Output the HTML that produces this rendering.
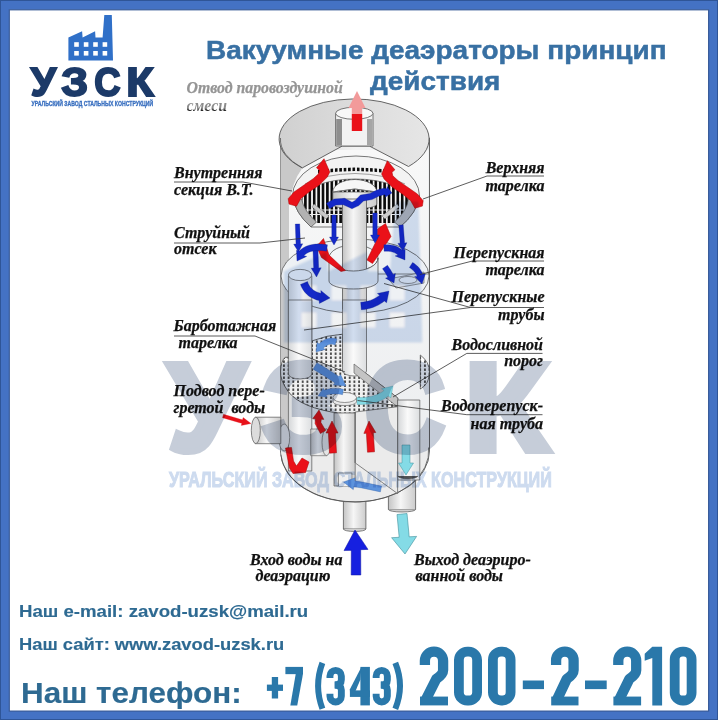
<!DOCTYPE html>
<html><head><meta charset="utf-8">
<style>
html,body{margin:0;padding:0;}
body{width:718px;height:720px;position:relative;overflow:hidden;background:#fff;font-family:"Liberation Sans",sans-serif;}
#frame{position:absolute;left:0;top:0;width:718px;height:720px;box-sizing:border-box;border-style:solid;border-color:#4472c4;border-width:9px 9px 8px 9px;z-index:50;}
.t{position:absolute;white-space:nowrap;line-height:1;}
.title{font-weight:bold;color:#3870a3;font-size:26.5px;transform-origin:0 0;-webkit-text-stroke:0.5px #3870a3;}
.lb{font-family:"Liberation Serif",serif;font-weight:bold;font-style:italic;color:#111;font-size:16px;-webkit-text-stroke-width:0.25px;}
.lbn{font-family:"Liberation Serif",serif;font-weight:bold;font-style:italic;color:#111;font-size:16px;-webkit-text-stroke-width:0.25px;}
.ct{font-weight:bold;color:#2e6a92;transform-origin:0 0;-webkit-text-stroke:0.15px #2e6a92;}
.ph{font-weight:bold;color:#2a79ad;transform-origin:0 0;}
svg{position:absolute;left:0;top:0;}
#wm{mix-blend-mode:multiply;}
</style></head><body>
<svg width="718" height="720" viewBox="0 0 718 720">
<g id="logo"><g id="logoF">
<path d="M68.4,60.5 L68.4,37.6 L82.1,31.3 L82.6,37.6 L95.1,31.3 L95.5,37.6 L102.6,37.6 L104.3,15 L111.8,15 L113,60.5 Z" fill="#3070c8"/>
<g fill="#fff">
<rect x="74.2" y="42.2" width="4.6" height="4.6"/><rect x="83.8" y="42.2" width="4.6" height="4.6"/><rect x="93.2" y="42.2" width="4.6" height="4.6"/><rect x="102.6" y="42.2" width="4.6" height="4.6"/>
<rect x="74.2" y="51" width="4.6" height="4.6"/><rect x="83.8" y="51" width="4.6" height="4.6"/><rect x="93.2" y="51" width="4.6" height="4.6"/><rect x="102.6" y="51" width="4.6" height="4.6"/>
</g></g><g id="logoT">
<g font-family="Liberation Sans" font-weight="bold" font-size="40.5" fill="#1c3a68" stroke="#1c3a68" stroke-width="2">
<text transform="translate(30.7,95.6) scale(1.004,1)">У</text>
<text transform="translate(61.2,95.6) scale(1.056,1)">З</text>
<text transform="translate(94.24,95.6) scale(0.901,1)">С</text>
<text transform="translate(126.37,95.6) scale(1.112,1)">К</text>
</g></g><g id="logoS">
<text transform="translate(31.6,106.4) scale(0.713,1)" font-family="Liberation Sans" font-weight="bold" font-size="7.2" fill="#3a70c0" stroke="#3a70c0" stroke-width="0.35">УРАЛЬСКИЙ ЗАВОД СТАЛЬНЫХ КОНСТРУКЦИЙ</text>
</g></g><defs>
 <linearGradient id="gw" x1="0" x2="1" y1="0" y2="0">
  <stop offset="0" stop-color="#c0c0c0"/><stop offset="0.06" stop-color="#cdcdcd"/><stop offset="0.5" stop-color="#f2f2f2"/><stop offset="0.94" stop-color="#f0f2f4"/><stop offset="1" stop-color="#e6e8ea"/>
 </linearGradient>
 <linearGradient id="gl" x1="0" x2="1" y1="0" y2="0">
  <stop offset="0" stop-color="#d0d0d0"/><stop offset="0.5" stop-color="#dcdcdc"/><stop offset="1" stop-color="#e6e6e6"/>
 </linearGradient>
 <linearGradient id="gp" x1="0" x2="1" y1="0" y2="0">
  <stop offset="0" stop-color="#c4c4c4"/><stop offset="0.45" stop-color="#f6f6f6"/><stop offset="1" stop-color="#cccccc"/>
 </linearGradient>
 <linearGradient id="gp2" x1="0" x2="1" y1="0" y2="0">
  <stop offset="0" stop-color="#d4d6d8"/><stop offset="0.45" stop-color="#fafafa"/><stop offset="1" stop-color="#dcdee0"/>
 </linearGradient>
 <linearGradient id="gin" x1="0" x2="0" y1="0" y2="1">
  <stop offset="0" stop-color="#f8f8f8"/><stop offset="1" stop-color="#eceef0"/>
 </linearGradient>
 <pattern id="dots" width="4.7" height="4" patternUnits="userSpaceOnUse">
  <rect x="1.2" y="0.5" width="1.4" height="2.4" fill="#111"/>
 </pattern>
 <pattern id="grate" width="4.4" height="20" patternUnits="userSpaceOnUse" x="0.5">
  <rect x="0" y="0" width="4.4" height="20" fill="#f4f4f4"/>
  <rect x="0" y="0" width="2.6" height="20" fill="#0a0a0a"/>
 </pattern>
</defs>

<g stroke-linejoin="round">
<!-- bottom pipes (behind body) -->
<rect x="343.4" y="490" width="22.5" height="39" fill="url(#gp)" stroke="#555" stroke-width="0.8"/>
<path d="M343.4,529 A11.25,2.5 0 0 0 365.9,529" fill="#cfcfcf" stroke="#555" stroke-width="0.7"/>
<rect x="388.4" y="480" width="27.2" height="29.5" fill="url(#gp)" stroke="#555" stroke-width="0.8"/>
<path d="M388.4,509.5 A13.6,2.5 0 0 0 415.6,509.5" fill="#cfcfcf" stroke="#555" stroke-width="0.7"/>
<!-- outer body -->
<path d="M280.5,138 V451 A74.5,51 0 0 0 429.5,451 V138 Z" fill="url(#gw)" stroke="#555" stroke-width="0.9"/>
<line x1="288.6" y1="160" x2="288.6" y2="452" stroke="#888" stroke-width="0.6"/>

<rect x="289" y="150" width="139.5" height="298" fill="url(#gin)"/>
<path d="M280.5,138 A75,40 0 0 0 302.3,167.9 Q292,182 289,205 V451 H280.5 Z" fill="#c9c9c9"/>
<path d="M281,452 A74,51 0 0 0 429,448 L429,440 L281,444 Z" fill="#ececec"/>
<path d="M280.8,454.6 A74,51 0 0 0 428.6,447.5" fill="none" stroke="#555" stroke-width="0.8"/>
<!-- upper tray ring -->
<path d="M292.5,196 A63.5,40 0 0 1 419.5,196 Q417,213 400,227 L311,227 Q295,213 292.5,196 Z" fill="#f3f3f3" stroke="#555" stroke-width="0.8"/>
<path d="M318,170 Q355,165 392,170 L392,173.5 Q355,168.5 318,173.5 Z" fill="url(#grate)"/>
<path d="M305,184 Q325,174 355,173.5 Q385,174 405,184" fill="none" stroke="#666" stroke-width="0.6"/>
<path d="M302,200 A53,21 0 0 1 408,200 L408,204 L399,223 L312,223 L302,204 Z" fill="url(#grate)"/>
<path d="M302,200 A53,21 0 0 1 408,200" fill="none" stroke="#555" stroke-width="0.7"/>
<path d="M304,210 L406,210 M305,214.5 L404,214.5" stroke="#eee" stroke-width="1"/>
<!-- ring front pieces -->
<path d="M292.5,196 Q295,213 311,227 L316.5,222 Q304,211 301.5,199 Z" fill="#b2b2b2" stroke="#555" stroke-width="0.7"/>
<path d="M314,204 L329,216 L326,219 L312,207 Z" fill="#c9c9c9" stroke="#666" stroke-width="0.4"/>
<path d="M419.5,196 Q417,213 400,227 L394.5,222 Q407,211 408.5,199 Z" fill="#bcbcbc" stroke="#555" stroke-width="0.7"/>
<path d="M397,204 L382,216 L385,219 L399,207 Z" fill="#cfcfcf" stroke="#666" stroke-width="0.4"/>

<!-- central cylinder top with notch -->
<path d="M332.8,192 L332.8,204 A22,5 0 0 0 376.8,204 L376.8,192 Z" fill="url(#gp)" stroke="#555" stroke-width="0.7"/>
<path d="M332.8,192 A22,12.5 0 0 1 376.8,192 L354.8,189 Z" fill="#f7f7f7" stroke="#555" stroke-width="0.8"/>
<path d="M332.8,192 L354.8,189 L376.8,192" fill="none" stroke="#777" stroke-width="0.6"/>
<!-- lid -->
<path d="M302.3,167.9 A75,40 0 1 1 408.5,166.5 L369.3,146 L342.3,146 Z" fill="url(#gl)" stroke="#555" stroke-width="0.9"/>
<path d="M280.5,138 A75,40 0 0 0 302.3,167.9" fill="none" stroke="#555" stroke-width="0.8"/>
<!-- outlet pipe -->
<rect x="335.6" y="113.3" width="37.4" height="32.7" fill="#f2f2f2" stroke="#555" stroke-width="0.8"/>
<rect x="336.2" y="119" width="5.8" height="26.5" fill="#8e8e8e"/>
<rect x="367" y="119" width="5.5" height="26.5" fill="#a6a6a6"/>
<ellipse cx="354.3" cy="113.3" rx="18.7" ry="6" fill="#f8f8f8" stroke="#555" stroke-width="0.8"/>
<!-- mid tray -->
<path d="M281,276 A74,37 0 0 1 429,276 A74,37 0 0 1 281,276 Z" fill="#eef1f4" stroke="#555" stroke-width="0.8"/>
<!-- pipes below mid tray -->
<rect x="288.4" y="276" width="23.4" height="195" fill="url(#gp2)" stroke="#555" stroke-width="0.7"/>
<ellipse cx="300.1" cy="275" rx="11.7" ry="5.6" fill="#f2f4f6" stroke="#555" stroke-width="0.7"/>

<!-- collar top -->
<ellipse cx="353.5" cy="258" rx="24.5" ry="13" fill="#f3f5f7" stroke="#555" stroke-width="0.8"/>
<!-- central pipe -->
<rect x="342.5" y="199" width="24" height="110" fill="url(#gp)" stroke="#555" stroke-width="0.8"/>
<!-- collar front -->
<path d="M329,258 A24.5,13 0 0 0 378,258 L378,281 A24.5,8 0 0 1 329,281 Z" fill="#e4e9ee" stroke="#555" stroke-width="0.8"/>
<!-- right small pipe top -->
<path d="M378,274 L428,274" stroke="#555" stroke-width="0.7"/>
<path d="M388.5,279 L424,272 L424,283 L396,288 Z" fill="#dfe3e8" stroke="#555" stroke-width="0.6"/>
<ellipse cx="408" cy="280" rx="9" ry="3.5" fill="#eef0f2" stroke="#555" stroke-width="0.6"/>

<!-- perforated plate -->
<path d="M285.2,357.3 L311.6,357 L311.6,341 Q327,335 342.5,334.2 L342.5,364 L354,364 L397.8,398 L397.8,406 Q370,414 341,413.5 Q300,408 287.8,391 Q280,380 280.6,371 Q281,361 285.2,357.3 Z" fill="#f0f0f0" stroke="#444" stroke-width="0.8"/>
<path d="M285.2,357.3 L311.6,357 L311.6,341 Q327,335 342.5,334.2 L342.5,364 L354,364 L397.8,398 L397.8,406 Q370,414 341,413.5 Q300,408 287.8,391 Q280,380 280.6,371 Q281,361 285.2,357.3 Z" fill="url(#dots)"/>
<path d="M288.4,300 L288.4,374 A11.7,5 0 0 0 311.8,374 L311.8,300 Z" fill="url(#gp2)" stroke="#555" stroke-width="0.7"/>
<path d="M342.5,300 L342.5,371 A12,5 0 0 0 366.5,371 L366.5,300 Z" fill="url(#gp2)" stroke="#555" stroke-width="0.7"/>
<path d="M420.3,355 Q429.5,362 429.5,372 Q429.5,384 420.3,389 Z" fill="#fff" stroke="#444" stroke-width="0.7"/>
<path d="M420.3,355 Q429.5,362 429.5,372 Q429.5,384 420.3,389 Z" fill="url(#dots)"/>
<!-- weir plate -->
<path d="M354,364 L397.8,398 L397.8,407 L354,373 Z" fill="#c4c4c4" stroke="#555" stroke-width="0.6"/>
<!-- small ring on plate -->
<path d="M333,398 L333,402 A11.8,4 0 0 0 356.5,402 L356.5,398 Z" fill="#e8e8e8" stroke="#555" stroke-width="0.6"/>
<ellipse cx="344.7" cy="397.5" rx="11.8" ry="5" fill="#f4f4f4" stroke="#555" stroke-width="0.6"/>

<!-- lower internals -->
<rect x="397.6" y="400" width="22.2" height="80" fill="url(#gp2)" stroke="#555" stroke-width="0.7"/>
<rect x="334" y="413" width="21.2" height="73" fill="url(#gp)" stroke="#555" stroke-width="0.7"/>
<path d="M338.5,486 L338.5,473 L351.9,473 L351.9,486" fill="#f0f0f0" stroke="#555" stroke-width="0.6"/>
<path d="M355.2,412 L397.6,406.7 L397.6,493.6 L355.2,462.9 Z" fill="#ebebeb" stroke="#555" stroke-width="0.7"/>
<path d="M355.2,412 L355.2,462.9" stroke="#555" stroke-width="0.7"/>
<path d="M397.6,476 A10.7,4 0 0 0 418,476" fill="#555" stroke="#333" stroke-width="0.6"/>
<!-- inlet stub pipe inside -->
<rect x="310.7" y="429" width="16" height="26.7" fill="url(#gp)" stroke="#555" stroke-width="0.6"/>
<ellipse cx="326.5" cy="442.3" rx="4.5" ry="13.3" fill="#e4e4e4" stroke="#555" stroke-width="0.6"/>
<ellipse cx="284.2" cy="437.5" rx="5.5" ry="13.5" fill="#e8e8e8" stroke="#555" stroke-width="0.6"/>

<!-- side inlet pipe -->
<rect x="255.3" y="417.2" width="25.5" height="26.5" fill="url(#gp)" stroke="#555" stroke-width="0.7"/>
<ellipse cx="255.8" cy="430.4" rx="4.5" ry="13.2" fill="#dcdcdc" stroke="#555" stroke-width="0.7"/>
</g>
<clipPath id="cpA"><rect x="300" y="114" width="100" height="40"/></clipPath><clipPath id="cpB"><rect x="300" y="80" width="100" height="34"/></clipPath>
<path d="M362.2,131.0 L362.2,108.0 L357.0,108.0 L365.5,108.0 L357.0,91.0 L348.5,108.0 L357.0,108.0 L351.8,108.0 L351.8,131.0 Z" fill="#ea1119" clip-path="url(#cpA)"/>
<path d="M362.2,131.0 L362.2,108.0 L357.0,108.0 L365.5,108.0 L357.0,91.0 L348.5,108.0 L357.0,108.0 L351.8,108.0 L351.8,131.0 Z" fill="#f29a9a" clip-path="url(#cpB)"/>
<path d="M324.0,158.7 L329.8,172.0 L327.3,177.0 L319.0,185.3 L309.0,192.0 L300.7,198.7 L296.5,206.2 L289.0,204.1 L288.2,198.7 L294.0,192.0 L304.8,184.5 L313.2,178.7 L318.6,173.8 L319.4,170.3 L316.5,167.8 Z" fill="#ea1119" stroke="#a00" stroke-width="0.5"/>
<path d="M387.4,160.7 L381.6,174.0 L384.1,179.0 L392.4,187.3 L402.4,194.0 L410.7,200.7 L414.9,208.2 L422.4,206.1 L423.2,200.7 L417.4,194.0 L406.6,186.5 L398.2,180.7 L392.8,175.8 L392.0,172.3 L394.9,169.8 Z" fill="#ea1119" stroke="#a00" stroke-width="0.5"/>
<path d="M345.5,270.5 L329,255 L323.5,238.5 L316.5,246.5 L321.5,257.5 L341,271.5 Z" fill="#ea1119" stroke="#a00" stroke-width="0.5"/>
<path d="M385.5,223.5 L391,236.5 L378.5,255 L372.5,263.5 L367,260 L377,239.5 L377.5,229 Z" fill="#ea1119" stroke="#a00" stroke-width="0.5"/>
<path d="M325.6,430.5 L320.9,422.4 L321.3,419.2 L323.8,419.4 L319.0,410.0 L312.8,418.6 L315.3,418.7 L315.1,423.6 L320.4,433.5 Z" fill="#e8121a" stroke="#9a0a0a" stroke-width="0.5"/>
<path d="M336.5,452.8 L335.5,434.9 L335.5,433.0 L338.0,433.0 L332.0,421.0 L326.0,433.0 L328.5,433.0 L328.5,435.1 L329.5,453.2 Z" fill="#e8121a" stroke="#9a0a0a" stroke-width="0.5"/>
<path d="M374.5,451.8 L373.5,434.8 L373.3,432.7 L375.8,432.5 L369.0,421.0 L363.9,433.4 L366.4,433.2 L366.5,435.2 L367.5,452.2 Z" fill="#e8121a" stroke="#9a0a0a" stroke-width="0.5"/>
<path d="M285.5,448 L291.5,447.5 L293.5,461 L296.5,466 L302,458 L309,462 L305.5,472.5 L293,473.5 L289.5,468 Z" fill="#ea1119" stroke="#a00" stroke-width="0.5"/>
<path d="M222.5,417.7 L239.6,422.7 L241.8,423.2 L241.3,425.4 L251.0,423.5 L243.1,417.6 L242.6,419.8 L240.4,419.3 L223.5,414.3 Z" fill="#e8121a" stroke="#e8121a" stroke-width="0.3"/>
<path d="M329.6,208.8 L335.9,205.1 L343.3,204.7 L352.0,208.8 L358.9,205.6 L363.5,200.9 L372.0,199.6 L379.1,196.0 L384.1,194.7 L385.5,195.1 L385.1,197.3 L392.0,193.0 L387.1,186.5 L386.7,188.7 L383.9,188.3 L376.9,190.0 L370.0,193.4 L360.5,195.1 L355.1,200.4 L352.0,202.2 L344.7,198.3 L334.1,198.9 L326.4,203.2 Z" fill="#1429c8" stroke="#0a1a80" stroke-width="0.3"/>
<path d="M331.8,215.0 L331.8,230.0 L331.8,237.0 L329.5,237.0 L334.0,245.0 L338.5,237.0 L336.2,237.0 L336.2,230.0 L336.2,215.0 Z" fill="#1429c8" stroke="#0a1a80" stroke-width="0.3"/>
<path d="M372.8,213.0 L372.8,228.0 L372.8,235.0 L370.5,235.0 L375.0,243.0 L379.5,235.0 L377.2,235.0 L377.2,228.0 L377.2,213.0 Z" fill="#1429c8" stroke="#0a1a80" stroke-width="0.3"/>
<path d="M295.3,224.1 L295.8,238.1 L296.0,244.1 L293.7,244.2 L298.5,252.0 L302.7,243.8 L300.5,243.9 L300.2,237.9 L299.7,223.9 Z" fill="#1429c8" stroke="#0a1a80" stroke-width="0.3"/>
<path d="M398.8,225.2 L399.8,238.2 L400.1,243.2 L397.9,243.4 L403.0,251.0 L406.9,242.7 L404.6,242.9 L404.2,237.8 L403.2,224.8 Z" fill="#1429c8" stroke="#0a1a80" stroke-width="0.3"/>
<path d="M313.0,250.1 L313.5,264.1 L313.7,268.1 L311.2,268.2 L316.5,277.0 L321.2,267.8 L318.7,267.9 L318.5,263.9 L318.0,249.9 Z" fill="#1429c8" stroke="#0a1a80" stroke-width="0.3"/>
<path d="M327.4,244.8 L323.4,244.2 L319.6,244.0 L315.9,244.1 L312.5,244.5 L309.2,245.2 L306.2,246.3 L303.4,247.7 L300.9,249.5 L299.3,251.0 L296.5,250.3 L297.0,261.0 L306.7,256.4 L303.9,255.7 L305.1,254.5 L306.8,253.3 L308.8,252.2 L311.0,251.4 L313.5,250.9 L316.3,250.6 L319.4,250.5 L322.8,250.7 L326.6,251.2 Z" fill="#1429c8" stroke="#0a1a80" stroke-width="0.3"/>
<path d="M384.1,251.2 L386.6,251.2 L388.7,251.3 L390.7,251.6 L392.5,252.0 L394.2,252.6 L395.6,253.3 L397.0,254.2 L398.0,255.0 L395.1,255.9 L405.0,260.0 L405.1,249.3 L402.2,250.1 L400.9,249.0 L398.9,247.7 L396.7,246.6 L394.4,245.8 L391.9,245.2 L389.3,244.8 L386.6,244.7 L383.9,244.8 Z" fill="#1429c8" stroke="#0a1a80" stroke-width="0.3"/>
<path d="M300.5,284.4 L301.5,287.0 L302.9,289.5 L304.6,291.9 L306.5,294.0 L308.7,295.9 L311.1,297.5 L313.8,298.8 L316.6,299.9 L319.1,300.6 L319.4,303.4 L330.0,298.0 L320.8,290.5 L321.0,293.3 L318.9,292.8 L316.8,292.0 L314.9,291.0 L313.2,289.9 L311.7,288.6 L310.4,287.2 L309.3,285.6 L308.3,283.8 L307.5,281.6 Z" fill="#1429c8" stroke="#0a1a80" stroke-width="0.3"/>
<path d="M361.3,309.7 L364.3,309.5 L367.2,309.0 L370.1,308.3 L372.9,307.4 L375.6,306.3 L378.3,305.1 L380.8,303.6 L383.2,301.9 L384.3,301.0 L386.6,302.7 L389.0,291.0 L377.4,293.5 L379.6,295.2 L378.8,295.9 L376.8,297.2 L374.7,298.4 L372.6,299.5 L370.4,300.4 L368.1,301.1 L365.8,301.6 L363.3,302.0 L360.7,302.3 Z" fill="#1429c8" stroke="#0a1a80" stroke-width="0.3"/>
<path d="M382.5,268.7 L383.4,269.9 L384.1,271.0 L384.9,272.2 L385.7,273.4 L386.4,274.7 L387.1,276.0 L387.9,277.3 L385.5,278.2 L394.0,283.0 L395.4,273.4 L393.1,274.4 L392.4,273.0 L391.6,271.7 L390.8,270.3 L390.0,269.0 L389.1,267.7 L388.3,266.5 L387.5,265.3 Z" fill="#1429c8" stroke="#0a1a80" stroke-width="0.3"/>
<path d="M409.4,267.5 L410.9,268.5 L412.1,269.5 L413.3,270.6 L414.4,271.7 L415.3,272.9 L416.2,274.3 L416.9,275.7 L417.2,276.4 L414.6,276.5 L422.0,284.0 L425.3,274.0 L422.7,274.1 L422.3,273.1 L421.3,271.2 L420.2,269.5 L419.0,267.8 L417.6,266.3 L416.0,264.9 L414.3,263.6 L412.6,262.5 Z" fill="#1429c8" stroke="#0a1a80" stroke-width="0.3"/>
<path d="M336.9,339.1 L335.1,338.5 L333.0,338.2 L330.9,338.1 L328.7,338.4 L326.7,339.0 L324.7,339.8 L322.7,340.9 L320.8,342.3 L319.2,343.7 L317.0,342.4 L316.0,352.0 L325.4,349.5 L323.2,348.2 L324.5,347.0 L326.0,346.0 L327.3,345.2 L328.7,344.6 L329.9,344.3 L331.1,344.1 L332.4,344.2 L333.6,344.4 L335.1,344.9 Z" fill="#5d93dc" stroke="#2f5a9a" stroke-width="0.3"/>
<path d="M313.1,369.2 L315.9,370.9 L318.6,372.5 L321.3,374.2 L324.0,375.8 L326.6,377.5 L329.2,379.2 L331.8,380.8 L334.3,382.5 L334.9,382.9 L333.3,385.1 L346.0,386.0 L340.6,374.4 L339.0,376.6 L338.4,376.2 L335.9,374.5 L333.3,372.8 L330.7,371.2 L328.0,369.5 L325.3,367.8 L322.5,366.1 L319.7,364.4 L316.9,362.8 Z" fill="#5d93dc" stroke="#2f5a9a" stroke-width="0.3"/>
<path d="M343.5,389.3 L341.3,388.9 L339.0,388.5 L336.7,388.4 L334.4,388.4 L332.1,388.5 L329.8,388.8 L327.6,389.2 L325.3,389.8 L324.4,390.1 L323.2,388.2 L318.0,396.0 L327.3,397.3 L326.1,395.3 L326.9,395.1 L328.8,394.6 L330.7,394.2 L332.6,394.0 L334.5,393.9 L336.5,393.9 L338.4,394.0 L340.4,394.3 L342.5,394.7 Z" fill="#5d93dc" stroke="#2f5a9a" stroke-width="0.3"/>
<path d="M357.0,404.5 L361.1,404.5 L365.2,404.3 L369.2,403.9 L372.9,403.2 L376.5,402.2 L379.8,401.0 L383.0,399.5 L386.0,397.7 L388.2,396.1 L390.9,397.7 L393.0,386.0 L381.4,388.8 L384.1,390.4 L382.2,391.9 L379.8,393.3 L377.2,394.5 L374.3,395.5 L371.3,396.4 L368.1,397.0 L364.7,397.4 L361.0,397.5 L357.0,397.5 Z" fill="#84dbe6" stroke="#3f8f9a" stroke-width="0.3"/>
<path d="M381.6,486.1 L362.5,482.1 L354.7,480.8 L355.2,477.8 L343.4,482.0 L353.3,489.7 L353.8,486.7 L361.5,487.9 L380.4,491.9 Z" fill="#5d93dc" stroke="#2f5a9a" stroke-width="0.3"/>
<path d="M402.0,445.0 L402.0,462.0 L402.0,463.0 L398.5,463.0 L406.0,475.0 L413.5,463.0 L410.0,463.0 L410.0,462.0 L410.0,445.0 Z" fill="#84dbe6" stroke="#3f8f9a" stroke-width="0.5"/>
<path d="M397.0,514.5 L399.0,535.4 L399.1,537.3 L391.6,537.7 L405.0,554.0 L416.6,536.4 L409.1,536.8 L409.0,534.6 L407.0,513.5 Z" fill="#84dbe6" stroke="#3f8f9a" stroke-width="0.6"/>
<path d="M360.8,575.0 L360.7,549.9 L360.7,549.7 L368.0,549.4 L355.0,530.0 L344.0,550.6 L351.3,550.2 L351.3,550.1 L351.2,575.0 Z" fill="#1620e0" stroke="#0a10a0" stroke-width="0.5"/><g stroke="#333" stroke-width="0.8" fill="none">
<path d="M174,182 L243,182 L292,191"/>
<path d="M174,243 L260,243 L305,238"/>
<path d="M174,336 L255,336 L345,372"/>
<path d="M544,176 L487,176 L423,199"/>
<path d="M544,261 L472.4,261 L420,274.5"/>
<path d="M544,307.5 L470.5,307.5 L384,283.5"/>
<path d="M470.5,307.5 L304,330"/>
<path d="M542.5,353.4 L466.8,353.4 L393,397"/>
<path d="M542.5,414.7 L466.8,414.7 L357.6,400.5"/>
</g>
</svg>
<div class="t title" style="left:205.5px;top:36.5px;transform:scaleX(1.055);">Вакуумные деаэраторы принцип</div>
<div class="t title" style="left:370.4px;top:68.3px;transform:scaleX(1.055);">действия</div>
<div class="t lb" style="left:186.5px;top:80.2px;color:#959595;font-size:15.8px;">Отвод паровоздушной</div>
<div class="t lb" style="left:186.5px;top:97.8px;color:transparent;font-size:15.8px;background:linear-gradient(#8c8c8c 0%,#8c8c8c 62%,#1a1a1a 80%);-webkit-background-clip:text;background-clip:text;-webkit-text-stroke-width:0;">смеси</div>
<div class="t lb" style="left:174.0px;top:164.6px;">Внутренняя</div>
<div class="t lb" style="left:174.0px;top:181.6px;">секция В.Т.</div>
<div class="t lb" style="left:174.0px;top:224.5px;">Струйный</div>
<div class="t lb" style="left:174.0px;top:241.0px;">отсек</div>
<div class="t lb" style="left:173.5px;top:318.0px;">Барботажная</div>
<div class="t lb" style="left:178.5px;top:334.6px;">тарелка</div>
<div class="t lb" style="left:173.5px;top:383.4px;">Подвод пере-</div>
<div class="t lb" style="left:173.5px;top:399.9px;">гретой&nbsp; воды</div>
<div class="t lb" style="right:173.5px;top:160.3px;">Верхняя</div>
<div class="t lb" style="right:173.5px;top:177.8px;">тарелка</div>
<div class="t lb" style="right:173.5px;top:244.6px;">Перепускная</div>
<div class="t lb" style="right:173.5px;top:261.6px;">тарелка</div>
<div class="t lb" style="right:173.5px;top:289.1px;">Перепускные</div>
<div class="t lb" style="right:173.5px;top:306.6px;">трубы</div>
<div class="t lb" style="right:175.0px;top:336.6px;">Водосливной</div>
<div class="t lb" style="right:175.0px;top:353.4px;">порог</div>
<div class="t lb" style="right:175.0px;top:398.4px;">Водоперепуск-</div>
<div class="t lb" style="right:175.0px;top:415.8px;">ная труба</div>
<div class="t lbn" style="left:250.0px;top:551.8px;">Вход воды на</div>
<div class="t lbn" style="left:255.5px;top:568.2px;">деаэрацию</div>
<div class="t lbn" style="left:414.0px;top:551.8px;">Выход деаэриро-</div>
<div class="t lbn" style="left:415.5px;top:568.2px;">ванной воды</div>
<div class="t ct" style="left:19px;top:602.7px;font-size:17px;transform:scaleX(1.095);">Наш e-mail: zavod-uzsk@mail.ru</div>
<div class="t ct" style="left:19px;top:635.8px;font-size:17px;transform:scaleX(1.078);">Наш сайт: www.zavod-uzsk.ru</div>
<div class="t ct" style="left:20.6px;top:678px;font-size:30px;transform:scaleX(1.047);">Наш телефон:</div>
<svg width="718" height="720" viewBox="0 0 718 720"><path d="M424.90,664.97 L424.90,660.80 A9.10,9.10 0 0 1 443.10,660.80 L443.10,670.24 Q443.10,674.34 436.24,679.03 L425.39,700.50" fill="none" stroke="#2a78aa" stroke-width="10.29" stroke-linejoin="round"/>
<rect x="420.00" y="696.58" width="28.00" height="8.82" fill="#2a78aa"/>
<rect x="458.90" y="651.70" width="18.20" height="48.80" rx="8.37" ry="8.37" fill="none" stroke="#2a78aa" stroke-width="9.80"/>
<rect x="492.90" y="651.70" width="17.70" height="48.80" rx="8.14" ry="8.14" fill="none" stroke="#2a78aa" stroke-width="9.80"/>
<rect x="522.80" y="680.50" width="21.20" height="8.61" fill="#2a78aa"/>
<path d="M556.10,664.97 L556.10,660.45 A8.75,8.75 0 0 1 573.60,660.45 L573.60,670.24 Q573.60,674.34 566.74,679.03 L556.59,700.50" fill="none" stroke="#2a78aa" stroke-width="10.29" stroke-linejoin="round"/>
<rect x="551.20" y="696.58" width="27.30" height="8.82" fill="#2a78aa"/>
<rect x="585.00" y="680.50" width="21.70" height="8.61" fill="#2a78aa"/>
<path d="M618.30,664.97 L618.30,660.65 A8.95,8.95 0 0 1 636.20,660.65 L636.20,670.24 Q636.20,674.34 629.34,679.03 L618.79,700.50" fill="none" stroke="#2a78aa" stroke-width="10.29" stroke-linejoin="round"/>
<rect x="613.40" y="696.58" width="27.70" height="8.82" fill="#2a78aa"/>
<path d="M652.30,646.80 L662.10,646.80 L662.10,705.40 L652.30,705.40 L652.30,657.93 L644.70,660.86 L644.70,653.83 Z" fill="#2a78aa"/>
<rect x="674.70" y="651.70" width="16.90" height="48.80" rx="7.77" ry="7.77" fill="none" stroke="#2a78aa" stroke-width="9.80"/>
<rect x="285.40" y="666.90" width="17.60" height="7.25" fill="#2a78aa"/>
<path d="M295.75,673.80 L303.00,673.80 L297.23,705.40 L290.33,705.40 Z" fill="#2a78aa"/>
<path d="M329.95,678.06 L329.95,676.05 A5.70,5.70 0 0 1 341.35,676.05 L341.35,679.87 Q341.35,685.00 334.74,685.00" fill="none" stroke="#2a78aa" stroke-width="6.90"/>
<path d="M334.74,685.00 Q341.35,685.00 341.35,690.12 L341.35,696.25 A5.70,5.70 0 0 1 329.95,696.25 L329.95,693.85" fill="none" stroke="#2a78aa" stroke-width="6.90"/>
<rect x="360.40" y="666.90" width="9.50" height="38.50" fill="#2a78aa"/>
<path d="M361.40,666.90 L360.40,679.61 L355.42,691.15 L349.90,691.15 L349.90,689.23 Z" fill="#2a78aa"/>
<rect x="349.90" y="690.38" width="20.00" height="6.55" fill="#2a78aa"/>
<path d="M376.15,678.06 L376.15,675.95 A5.60,5.60 0 0 1 387.35,675.95 L387.35,679.96 Q387.35,685.00 380.85,685.00" fill="none" stroke="#2a78aa" stroke-width="6.90"/>
<path d="M380.85,685.00 Q387.35,685.00 387.35,690.03 L387.35,696.35 A5.60,5.60 0 0 1 376.15,696.35 L376.15,693.85" fill="none" stroke="#2a78aa" stroke-width="6.90"/>
<rect x="271.80" y="677.00" width="6.30" height="21.50" fill="#2a78aa"/>
<rect x="266.90" y="684.60" width="16.10" height="6.30" fill="#2a78aa"/>
<path d="M322.40,662.90 Q313.80,685.80 322.40,708.70" fill="none" stroke="#2a78aa" stroke-width="6.00"/>
<path d="M395.30,662.90 Q404.70,685.85 395.30,708.80" fill="none" stroke="#2a78aa" stroke-width="6.00"/></svg>
<svg id="wm" width="718" height="720" viewBox="0 0 718 720"><defs><filter id="blur1" x="-10%" y="-10%" width="120%" height="120%"><feGaussianBlur stdDeviation="0.35"/></filter></defs><g transform="matrix(3.1,0,0,3.1,71.98,154.9)"><use href="#logoF" opacity="0.2" filter="url(#blur1)"/><use href="#logoT" opacity="0.25"/></g><g transform="matrix(3.15,0,0,3.0,69.4,168)"><use href="#logoS" opacity="0.25"/></g></svg>
<svg style="z-index:50" width="718" height="720" viewBox="0 0 718 720"><path d="M0,0 H718 V720 H0 Z M9.3,9.8 V711.1 H708.6 V9.8 Z" fill="#4472c4" fill-rule="evenodd"/><rect x="9.3" y="9.8" width="699.3" height="701.3" fill="none" stroke="#3a5c9a" stroke-width="1.2"/><rect x="0.5" y="0.5" width="717" height="719" fill="none" stroke="#2f5597" stroke-width="1"/></svg>
</body></html>
